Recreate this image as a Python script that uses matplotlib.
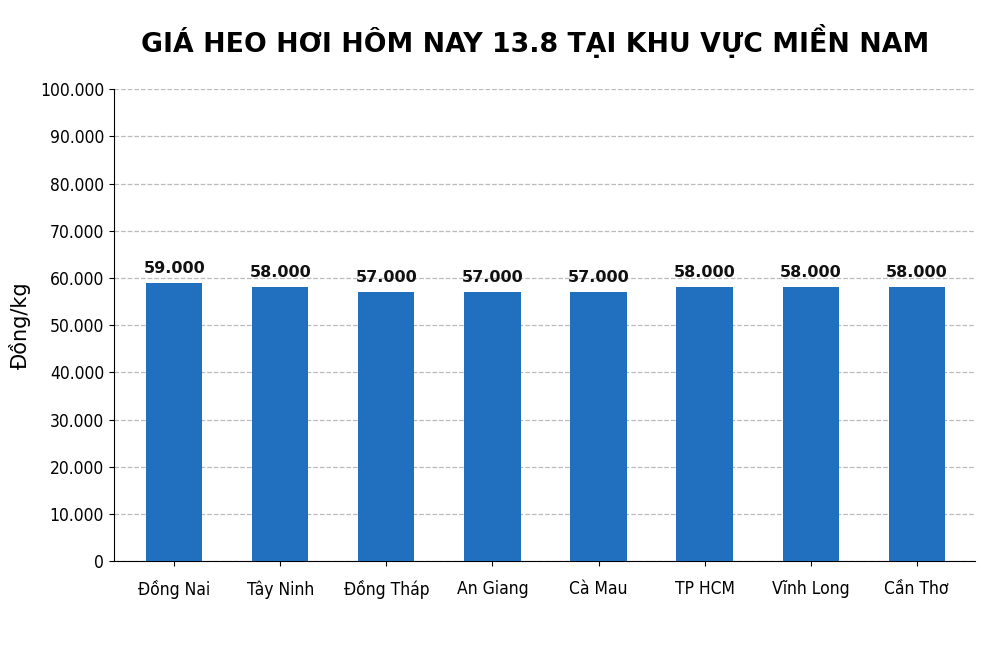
import numpy as np
import matplotlib.pyplot as plt
from matplotlib.ticker import FuncFormatter

regions = ['Đồng Nai', 'Tây Ninh', 'Đồng Tháp', 'An Giang', 'Cà Mau', 'TP HCM', 'Vĩnh Long', 'Cần Thơ']
prices = [59000, 58000, 57000, 57000, 57000, 58000, 58000, 58000]

plt.rcParams['font.family'] = ['DejaVu Sans']

fig = plt.figure(figsize=(9.98, 6.65), dpi=100)
ax = fig.add_axes([0.114, 0.156, 0.863, 0.71])

x = np.arange(len(regions))
ax.bar(x, prices, width=0.53, color='#2070bf', zorder=3)

for xi, v in zip(x, prices):
    ax.text(xi, v + 1500, '{:,}'.format(v).replace(',', '.'), ha='center', va='bottom',
            fontsize=11.5, fontweight='bold', color='#111111')

ax.set_ylim(0, 100000)
ax.set_xlim(-0.57, 7.55)
ax.set_yticks(np.arange(0, 100001, 10000))
ax.yaxis.set_major_formatter(FuncFormatter(lambda v, p: '{:,}'.format(int(v)).replace(',', '.')))
ax.set_xticks(x)
ax.set_xticklabels(regions, fontsize=12.5, fontstretch='condensed')
for lab in ax.get_yticklabels():
    lab.set_fontstretch('condensed')
ax.tick_params(axis='y', labelsize=12.5)
ax.tick_params(axis='x', pad=10)
ax.grid(axis='y', linestyle='--', color='#bbbbbb', linewidth=0.9, zorder=0)
ax.spines['top'].set_visible(False)
ax.spines['right'].set_visible(False)
ax.set_ylabel('Đồng/kg', fontsize=15)
ax.yaxis.set_label_coords(-0.096, 0.5)

fig.text(0.536, 0.938, 'GIÁ HEO HƠI HÔM NAY 13.8 TẠI KHU VỰC MIỀN NAM', ha='center', va='center',
         fontsize=19.3, fontweight='bold')

fig.savefig('out.png', dpi=100, facecolor='white')
